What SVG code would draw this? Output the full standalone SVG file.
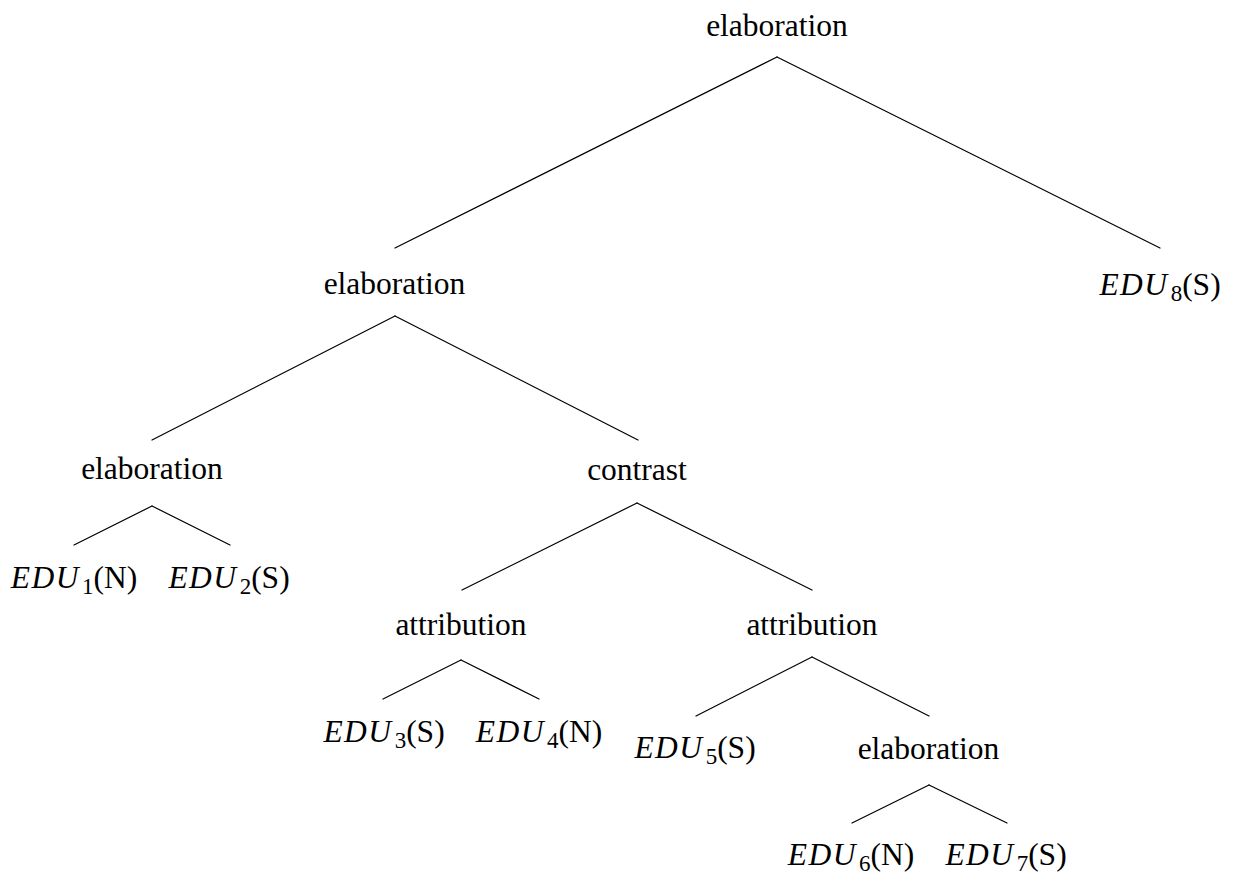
<svg xmlns="http://www.w3.org/2000/svg" width="1234" height="875" viewBox="0 0 1234 875">
<style>
text { font-family: "Liberation Serif", "Times New Roman", serif; font-size: 31.5px; fill: #000; text-anchor: middle; }
.it { font-style: italic; }
.sub { font-size: 23px; }
.conn line { stroke: #000; stroke-width: 1.2; stroke-linecap: round; }
</style>
<rect width="1234" height="875" fill="#fff"/>
<g id="connectors" class="conn">
<line x1="777" y1="57" x2="395" y2="248"/>
<line x1="777" y1="57" x2="1160" y2="248"/>
<line x1="395" y1="316" x2="152" y2="440"/>
<line x1="395" y1="316" x2="638" y2="440"/>
<line x1="152" y1="506" x2="74" y2="545"/>
<line x1="152" y1="506" x2="230" y2="545"/>
<line x1="637" y1="503" x2="462" y2="590"/>
<line x1="637" y1="503" x2="812" y2="590"/>
<line x1="461" y1="660" x2="383" y2="699"/>
<line x1="461" y1="660" x2="539" y2="699"/>
<line x1="812" y1="657" x2="696" y2="716"/>
<line x1="812" y1="657" x2="929" y2="716"/>
<line x1="929" y1="785" x2="852" y2="823"/>
<line x1="929" y1="785" x2="1007" y2="823"/>
</g>
<g id="n-root"><text x="777" y="36">elaboration</text></g>
<g id="n-elab2"><text x="394.5" y="294">elaboration</text></g>
<g id="n-edu8"><text x="1160" y="295"><tspan class="it" letter-spacing="1.5">EDU</tspan><tspan class="sub" dx="2" dy="6">8</tspan><tspan dy="-6">(S)</tspan></text></g>
<g id="n-elab3"><text x="152" y="479">elaboration</text></g>
<g id="n-contrast"><text x="637" y="480">contrast</text></g>
<g id="n-edu1"><text x="74" y="588"><tspan class="it" letter-spacing="1.5">EDU</tspan><tspan class="sub" dx="2" dy="6">1</tspan><tspan dy="-6">(N)</tspan></text></g>
<g id="n-edu2"><text x="229" y="588"><tspan class="it" letter-spacing="1.5">EDU</tspan><tspan class="sub" dx="2" dy="6">2</tspan><tspan dy="-6">(S)</tspan></text></g>
<g id="n-attr1"><text x="461" y="635">attribution</text></g>
<g id="n-attr2"><text x="812" y="635">attribution</text></g>
<g id="n-edu3"><text x="384" y="742"><tspan class="it" letter-spacing="1.5">EDU</tspan><tspan class="sub" dx="2" dy="6">3</tspan><tspan dy="-6">(S)</tspan></text></g>
<g id="n-edu4"><text x="539" y="742"><tspan class="it" letter-spacing="1.5">EDU</tspan><tspan class="sub" dx="2" dy="6">4</tspan><tspan dy="-6">(N)</tspan></text></g>
<g id="n-edu5"><text x="695" y="758"><tspan class="it" letter-spacing="1.5">EDU</tspan><tspan class="sub" dx="2" dy="6">5</tspan><tspan dy="-6">(S)</tspan></text></g>
<g id="n-elab4"><text x="928.5" y="759">elaboration</text></g>
<g id="n-edu6"><text x="851" y="865"><tspan class="it" letter-spacing="1.5">EDU</tspan><tspan class="sub" dx="2" dy="6">6</tspan><tspan dy="-6">(N)</tspan></text></g>
<g id="n-edu7"><text x="1006" y="865"><tspan class="it" letter-spacing="1.5">EDU</tspan><tspan class="sub" dx="2" dy="6">7</tspan><tspan dy="-6">(S)</tspan></text></g>
</svg>
